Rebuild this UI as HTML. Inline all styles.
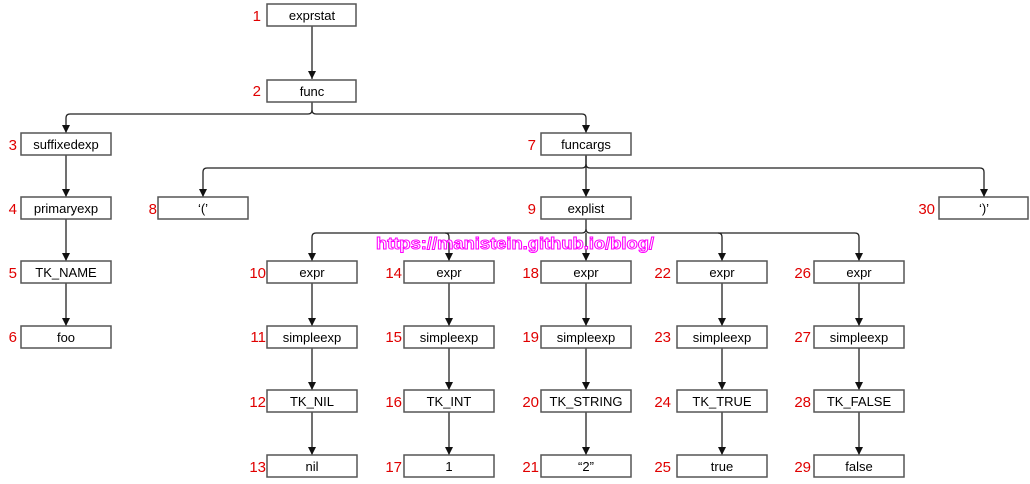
<!DOCTYPE html>
<html><head><meta charset="utf-8"><style>
html,body{margin:0;padding:0;background:#fff;width:1030px;height:484px;overflow:hidden}
svg text{font-family:"Liberation Sans","DejaVu Sans",sans-serif}
.b{fill:#fff;stroke:#555;stroke-width:1.5}
.t{font-size:13px;fill:#000;text-anchor:middle}
.n{font-size:15px;fill:#e00000;text-anchor:end;font-family:"Liberation Sans",sans-serif}
.l{fill:none;stroke:#222;stroke-width:1.3}
</style></head><body>
<svg width="1030" height="484" xmlns="http://www.w3.org/2000/svg">
<defs><marker id="a" markerWidth="8" markerHeight="8" refX="8" refY="4" orient="auto" markerUnits="userSpaceOnUse"><path d="M0,0 L8,4 L0,8 z" fill="#111"/></marker></defs>
<g class="l">
<path d="M312 26 V79" marker-end="url(#a)"/>
<path d="M312 102 V110 Q312 114 308 114 H70 Q66 114 66 118 V133" marker-end="url(#a)"/>
<path d="M312 110 Q312 114 316 114 H582 Q586 114 586 118 V133" marker-end="url(#a)"/>
<path d="M66 155 V197" marker-end="url(#a)"/>
<path d="M66 219 V261" marker-end="url(#a)"/>
<path d="M66 283 V326" marker-end="url(#a)"/>
<path d="M586 155 V164 Q586 168 582 168 H207 Q203 168 203 172 V197" marker-end="url(#a)"/>
<path d="M586 164 Q586 168 590 168 H980 Q984 168 984 172 V197" marker-end="url(#a)"/>
<path d="M586 155 V197" marker-end="url(#a)"/>
<path d="M586 219 V229 Q586 233 582 233 H316 Q312 233 312 237 V261" marker-end="url(#a)"/>
<path d="M445 233 Q449 233 449 237 V261" marker-end="url(#a)"/>
<path d="M586 229 Q586 233 590 233 H855 Q859 233 859 237 V261" marker-end="url(#a)"/>
<path d="M718 233 Q722 233 722 237 V261" marker-end="url(#a)"/>
<path d="M586 233 V261" marker-end="url(#a)"/>
<path d="M312 283 V326" marker-end="url(#a)"/><path d="M312 348 V390" marker-end="url(#a)"/><path d="M312 412 V455" marker-end="url(#a)"/>
<path d="M449 283 V326" marker-end="url(#a)"/><path d="M449 348 V390" marker-end="url(#a)"/><path d="M449 412 V455" marker-end="url(#a)"/>
<path d="M586 283 V326" marker-end="url(#a)"/><path d="M586 348 V390" marker-end="url(#a)"/><path d="M586 412 V455" marker-end="url(#a)"/>
<path d="M722 283 V326" marker-end="url(#a)"/><path d="M722 348 V390" marker-end="url(#a)"/><path d="M722 412 V455" marker-end="url(#a)"/>
<path d="M859 283 V326" marker-end="url(#a)"/><path d="M859 348 V390" marker-end="url(#a)"/><path d="M859 412 V455" marker-end="url(#a)"/>
</g>
<g>
<rect class="b" x="267" y="4" width="89" height="22"/><text class="t" x="312" y="20">exprstat</text><text class="n" x="261" y="21">1</text>
<rect class="b" x="267" y="80" width="89" height="22"/><text class="t" x="312" y="96">func</text><text class="n" x="261" y="96">2</text>
<rect class="b" x="21" y="133" width="90" height="22"/><text class="t" x="66" y="149">suffixedexp</text><text class="n" x="17" y="150">3</text>
<rect class="b" x="541" y="133" width="90" height="22"/><text class="t" x="586" y="149">funcargs</text><text class="n" x="536" y="150">7</text>
<rect class="b" x="21" y="197" width="90" height="22"/><text class="t" x="66" y="213">primaryexp</text><text class="n" x="17" y="214">4</text>
<rect class="b" x="158" y="197" width="90" height="22"/><text class="t" x="203" y="213">‘(’</text><text class="n" x="157" y="214">8</text>
<rect class="b" x="541" y="197" width="90" height="22"/><text class="t" x="586" y="213">explist</text><text class="n" x="536" y="214">9</text>
<rect class="b" x="939" y="197" width="89" height="22"/><text class="t" x="984" y="213">‘)’</text><text class="n" x="935" y="214">30</text>
<rect class="b" x="21" y="261" width="90" height="22"/><text class="t" x="66" y="277">TK_NAME</text><text class="n" x="17" y="278">5</text>
<rect class="b" x="21" y="326" width="90" height="22"/><text class="t" x="66" y="342">foo</text><text class="n" x="17" y="342">6</text>
</g>
<g>
<rect class="b" x="267" y="261" width="90" height="22"/><text class="t" x="312" y="277">expr</text><text class="n" x="266" y="278">10</text>
<rect class="b" x="267" y="326" width="90" height="22"/><text class="t" x="312" y="342">simpleexp</text><text class="n" x="266" y="342">11</text>
<rect class="b" x="267" y="390" width="90" height="22"/><text class="t" x="312" y="406">TK_NIL</text><text class="n" x="266" y="407">12</text>
<rect class="b" x="267" y="455" width="90" height="22"/><text class="t" x="312" y="471">nil</text><text class="n" x="266" y="472">13</text>

<rect class="b" x="404" y="261" width="90" height="22"/><text class="t" x="449" y="277">expr</text><text class="n" x="402" y="278">14</text>
<rect class="b" x="404" y="326" width="90" height="22"/><text class="t" x="449" y="342">simpleexp</text><text class="n" x="402" y="342">15</text>
<rect class="b" x="404" y="390" width="90" height="22"/><text class="t" x="449" y="406">TK_INT</text><text class="n" x="402" y="407">16</text>
<rect class="b" x="404" y="455" width="90" height="22"/><text class="t" x="449" y="471">1</text><text class="n" x="402" y="472">17</text>

<rect class="b" x="541" y="261" width="90" height="22"/><text class="t" x="586" y="277">expr</text><text class="n" x="539" y="278">18</text>
<rect class="b" x="541" y="326" width="90" height="22"/><text class="t" x="586" y="342">simpleexp</text><text class="n" x="539" y="342">19</text>
<rect class="b" x="541" y="390" width="90" height="22"/><text class="t" x="586" y="406">TK_STRING</text><text class="n" x="539" y="407">20</text>
<rect class="b" x="541" y="455" width="90" height="22"/><text class="t" x="586" y="471">“2”</text><text class="n" x="539" y="472">21</text>

<rect class="b" x="677" y="261" width="90" height="22"/><text class="t" x="722" y="277">expr</text><text class="n" x="671" y="278">22</text>
<rect class="b" x="677" y="326" width="90" height="22"/><text class="t" x="722" y="342">simpleexp</text><text class="n" x="671" y="342">23</text>
<rect class="b" x="677" y="390" width="90" height="22"/><text class="t" x="722" y="406">TK_TRUE</text><text class="n" x="671" y="407">24</text>
<rect class="b" x="677" y="455" width="90" height="22"/><text class="t" x="722" y="471">true</text><text class="n" x="671" y="472">25</text>

<rect class="b" x="814" y="261" width="90" height="22"/><text class="t" x="859" y="277">expr</text><text class="n" x="811" y="278">26</text>
<rect class="b" x="814" y="326" width="90" height="22"/><text class="t" x="859" y="342">simpleexp</text><text class="n" x="811" y="342">27</text>
<rect class="b" x="814" y="390" width="90" height="22"/><text class="t" x="859" y="406">TK_FALSE</text><text class="n" x="811" y="407">28</text>
<rect class="b" x="814" y="455" width="90" height="22"/><text class="t" x="859" y="471">false</text><text class="n" x="811" y="472">29</text>
</g>
<text x="376" y="249" textLength="278" lengthAdjust="spacingAndGlyphs" style="font-size:17px;font-weight:bold;fill:#fff;stroke:#f0f;stroke-width:1">https://manistein.github.io/blog/</text>
</svg>
</body></html>
